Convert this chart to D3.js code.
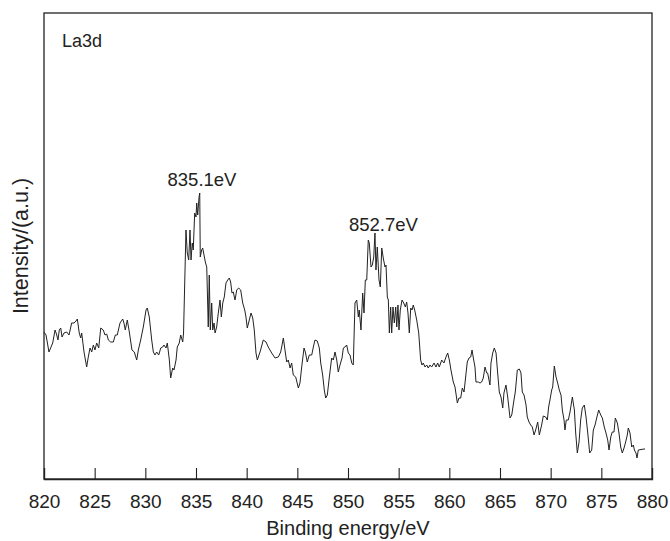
<!DOCTYPE html>
<html>
<head>
<meta charset="utf-8">
<script src="https://cdn.jsdelivr.net/npm/d3@7"></script>
<style>
  html, body { margin: 0; padding: 0; background: #fff; }
  svg { display: block; }
  text { font-family: "Liberation Sans", Arial, sans-serif; fill: #222; }
</style>
</head>
<body>
<svg id="chart" width="670" height="541"></svg>
<script>
// La 3d XPS spectrum: binding energy (eV) and intensity (a.u.)
const energy = [
  820.00,820.20,820.49,820.86,821.09,821.23,821.38,821.51,821.65,821.78,821.97,822.24,822.47,822.73,822.96,823.16,823.29,823.48,823.62,823.72,
  823.95,824.21,824.37,824.54,824.71,824.87,825.03,825.20,825.40,825.60,825.85,826.02,826.19,826.35,826.58,826.84,827.04,827.23,827.50,827.77,
  827.89,828.02,828.22,828.42,828.68,828.91,829.15,829.31,829.54,829.80,830.07,830.19,830.39,830.63,830.79,830.95,831.12,831.32,831.52,831.71,
  831.84,832.04,832.17,832.37,832.50,832.70,832.83,833.03,833.15,833.35,833.49,833.69,833.77,834.01,834.14,834.28,834.41,834.51,834.63,834.73,
  834.87,835.00,835.07,835.17,835.30,835.37,835.42,835.56,835.66,835.79,835.92,836.06,836.21,836.31,836.41,836.55,836.65,836.78,836.88,837.04,
  837.20,837.37,837.50,837.64,837.79,837.96,838.13,838.29,838.42,838.55,838.68,838.85,839.02,839.21,839.41,839.61,839.81,839.93,840.06,840.26,
  840.43,840.60,840.75,840.92,841.05,841.32,841.64,841.91,842.13,842.47,842.80,843.12,843.36,843.62,843.78,843.95,844.11,844.28,844.44,844.60,
  844.84,845.10,845.26,845.43,845.66,845.79,845.98,846.18,846.42,846.58,846.74,846.97,847.17,847.31,847.50,847.66,847.80,847.96,848.16,848.39,
  848.55,848.72,848.89,849.04,849.21,849.41,849.54,849.70,849.87,850.03,850.20,850.37,850.52,850.69,850.86,851.02,851.11,851.28,851.45,851.58,
  851.71,851.85,852.00,852.10,852.27,852.40,852.54,852.66,852.76,852.89,853.06,853.19,853.33,853.48,853.65,853.75,853.88,853.98,854.08,854.21,
  854.31,854.44,854.57,854.71,854.81,854.93,855.03,855.16,855.33,855.50,855.66,855.79,855.92,856.05,856.19,856.32,856.44,856.58,856.78,856.98,
  857.17,857.30,857.43,857.60,857.77,857.92,858.09,858.26,858.49,858.68,858.85,859.01,859.25,859.47,859.67,859.84,860.00,860.16,860.39,860.56,
  860.79,860.95,861.12,861.28,861.45,861.61,861.77,861.94,862.11,862.24,862.37,862.53,862.63,862.86,863.03,863.19,863.35,863.52,863.69,863.78,
  864.01,864.11,864.28,864.44,864.61,864.77,864.93,865.10,865.27,865.39,865.59,865.76,865.99,866.16,866.38,866.51,866.71,866.91,867.07,867.20,
  867.37,867.57,867.69,867.86,868.03,868.19,868.36,868.52,868.72,868.88,869.11,869.27,869.51,869.67,869.80,869.93,870.10,870.20,870.36,870.53,
  870.69,870.85,871.02,871.15,871.32,871.41,871.54,871.74,871.91,872.14,872.34,872.47,872.63,872.80,872.96,873.12,873.32,873.49,873.66,873.85,
  874.05,874.21,874.38,874.54,874.74,874.94,875.10,875.29,875.46,875.63,875.76,875.93,876.08,876.25,876.38,876.58,876.74,876.91,877.07,877.24,
  877.40,877.56,877.66,877.83,878.00,878.16,878.26,878.42,878.52,878.65,879.21,879.31
];
const intensity = [
  147,144,127,136,149,145,139,149,151,142,146,147,144,156,156,158,160,146,141,146,
  127,112,122,131,127,134,129,136,131,151,149,144,145,139,137,137,144,144,156,160,
  156,149,159,147,129,127,119,129,139,152,169,171,162,139,127,124,127,124,131,132,
  134,131,136,119,101,111,109,119,132,136,144,137,146,249,226,219,249,219,236,229,
  266,262,276,264,282,286,222,229,231,224,217,212,152,204,149,176,149,156,146,152,
  166,179,162,176,182,196,199,201,197,186,187,179,189,191,189,176,169,162,151,159,
  166,161,149,126,119,127,139,137,132,126,121,122,127,141,129,117,119,111,116,104,
  102,91,96,112,131,127,117,124,124,132,139,138,131,116,104,89,81,84,102,121,
  119,127,119,107,114,121,131,132,134,126,124,116,114,176,179,162,169,149,186,166,
  199,199,239,236,212,214,222,246,209,232,199,192,231,221,212,214,182,179,146,172,
  146,172,156,172,152,174,149,169,179,176,172,177,166,146,171,169,174,169,159,146,
  119,114,116,112,114,111,114,112,116,112,116,112,119,116,122,126,119,109,97,92,
  76,81,81,91,87,102,117,121,122,129,121,112,97,97,96,97,101,112,106,106,
  94,116,126,131,126,106,87,82,71,86,94,82,61,64,79,87,109,110,106,87,
  84,74,62,57,54,52,44,49,57,44,54,63,62,59,72,79,89,92,113,102,
  96,89,84,69,59,49,59,59,67,82,69,46,26,37,59,71,74,62,46,26,
  29,49,54,61,69,64,61,52,46,39,29,42,47,47,61,56,46,32,26,31,
  37,44,51,46,32,34,29,26,21,29,30,30
];

// x-axis tick values and peak annotations
const xTicks = [820, 825, 830, 835, 840, 845, 850, 855, 860, 865, 870, 875, 880];
const peakLabels = ["835.1eV", "852.7eV"];
const peakEnergy = [835.1, 852.7];
const peakLevel = [293, 248];

const svg = d3.select("#chart");
const margin = { left: 44, right: 18, top: 13, bottom: 62 };
const W = 670, H = 541;
const plotW = W - margin.left - margin.right;
const plotH = H - margin.top - margin.bottom;

const x = d3.scaleLinear().domain([820, 880]).range([margin.left, margin.left + plotW]);
const y = d3.scaleLinear().domain([0, 466]).range([margin.top + plotH, margin.top]);

// frame
svg.append("rect")
  .attr("x", margin.left).attr("y", margin.top)
  .attr("width", plotW).attr("height", plotH)
  .attr("fill", "none").attr("stroke", "#222").attr("stroke-width", 1.3);

// bottom axis with inward ticks
const xAxis = d3.axisBottom(x).tickValues(xTicks).tickSize(-11).tickPadding(16).tickFormat(d3.format("d"));
const gx = svg.append("g")
  .attr("transform", `translate(0,${margin.top + plotH})`)
  .call(xAxis);
gx.select(".domain").attr("stroke", "#222").attr("stroke-width", 1.3);
gx.selectAll(".tick line").attr("stroke", "#222").attr("stroke-width", 1.1);
gx.selectAll(".tick text")
  .style("font-family", '"Liberation Sans", Arial, sans-serif')
  .style("font-size", "19px").attr("fill", "#222");

// spectrum line
const line = d3.line()
  .x((d, i) => x(energy[i]))
  .y(d => y(d));
svg.append("path")
  .datum(intensity)
  .attr("d", line)
  .attr("fill", "none")
  .attr("stroke", "#222")
  .attr("stroke-width", 1)
  .attr("stroke-linejoin", "round");

// peak labels, set slightly right of the peak position
const labelShift = [5, 8];
peakLabels.forEach((t, i) => {
  svg.append("text")
    .attr("x", x(peakEnergy[i]) + labelShift[i])
    .attr("y", y(peakLevel[i]))
    .attr("text-anchor", "middle")
    .style("font-size", "18.5px")
    .text(t);
});

// panel label
svg.append("text")
  .attr("x", margin.left + 18).attr("y", margin.top + 34)
  .style("font-size", "18px")
  .text("La3d");

// axis titles
svg.append("text")
  .attr("x", margin.left + plotW / 2).attr("y", H - 6)
  .attr("text-anchor", "middle")
  .style("font-size", "20px")
  .text("Binding energy/eV");

svg.append("text")
  .attr("transform", `translate(28,${margin.top + plotH / 2}) rotate(-90)`)
  .attr("text-anchor", "middle")
  .style("font-size", "21.5px")
  .text("Intensity/(a.u.)");
</script>
</body>
</html>
